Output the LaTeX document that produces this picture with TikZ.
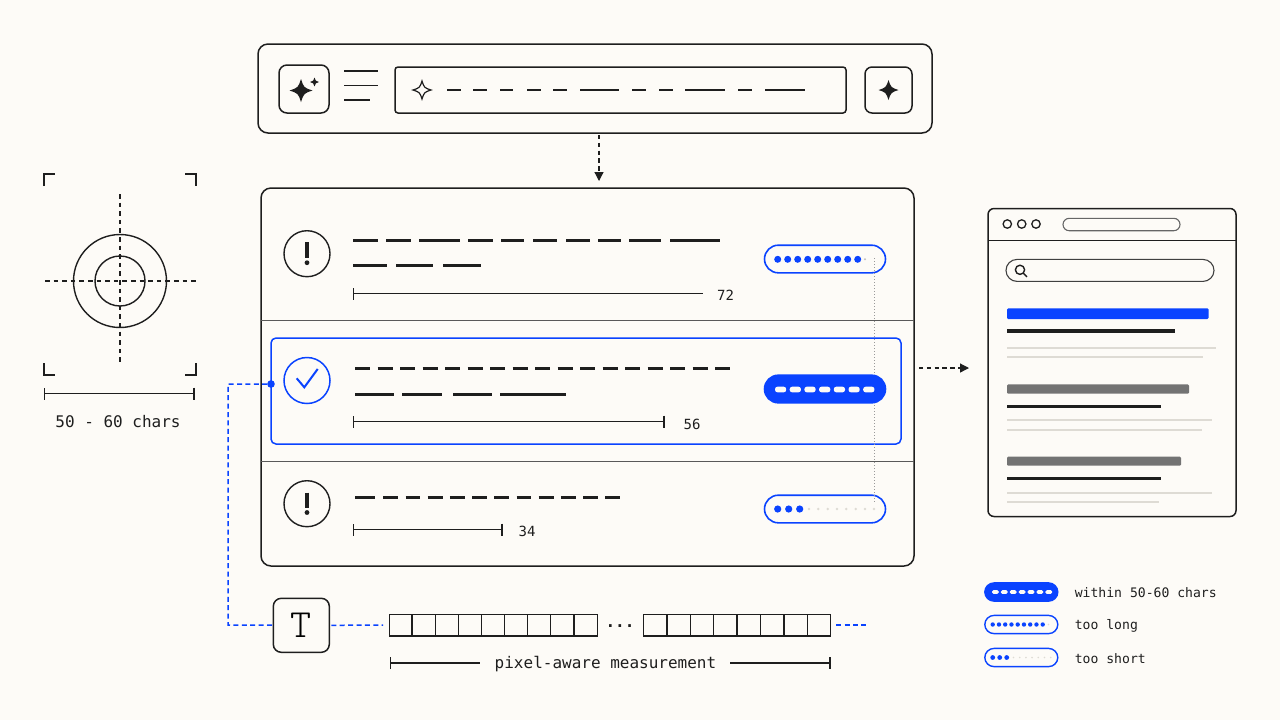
\documentclass[tikz,border=0pt]{standalone}
\usepackage{fontspec}
\setmonofont{DejaVu Sans Mono}
\newfontfamily\typeface{Latin Modern Mono Light}
\usetikzlibrary{arrows.meta,positioning}
\definecolor{paper}{HTML}{FDFBF7}
\definecolor{ink}{HTML}{1E1E1E}
\definecolor{signal}{HTML}{0A43FF}
\definecolor{haze}{HTML}{DEDBD4}

\begin{document}
\begin{tikzpicture}[x=.5pt,y=-.5pt,line width=.7pt,
    every node/.style={inner sep=0pt,outer sep=0pt},
    panel/.style={draw=ink,line width=.75pt,rounded corners=#1},
    panel/.default=5pt,
    ring/.style={circle,draw=ink,minimum size=23pt},
    pill/.style={draw=signal,line width=.8pt,fill=paper,rounded corners=6.9pt,minimum width=60.5pt,minimum height=13.8pt},
    pillsmall/.style={draw=signal,line width=.7pt,fill=paper,rounded corners=4.6pt,minimum width=36.5pt,minimum height=9.1pt},
    flow/.style={draw=ink,line width=.6pt,dash pattern=on 2.2pt off 1.7pt,-{Triangle[length=4.5pt,width=4.5pt]}},
    aim/.style={draw=ink,line width=.6pt,dash pattern=on 2.3pt off 2pt},
    link/.style={draw=signal,line width=.75pt,dash pattern=on 2.5pt off 1.7pt},
    bar/.style={draw=ink,line width=.55pt},
    word/.style={draw=ink,line width=1.3pt},
    dimstart/.style={draw=ink,line width=.75pt,{Bar[width=6pt,line width=.65pt]}-},
    dimboth/.style={draw=ink,line width=.75pt,{Bar[width=6pt,line width=.65pt]}-{Bar[width=6pt,line width=.65pt]}},
    caption/.style={font=\fontsize{8}{10}\selectfont\ttfamily,text=ink},
    count/.style={font=\fontsize{7}{9}\selectfont\ttfamily,text=ink},
    keytext/.style={font=\fontsize{6.55}{9}\selectfont\ttfamily,text=ink},
    probe/.style={draw=black!40,line width=.5pt,densely dotted},
    spark/.pic={\path[pic actions] (0,-1) .. controls (.25,-.25) .. (1,0) .. controls (.25,.25) .. (0,1)
        .. controls (-.25,.25) .. (-1,0) .. controls (-.25,-.25) .. (0,-1) -- cycle;}]

\fill[paper] (0,0) rectangle (1280,720);
\useasboundingbox (0,0) rectangle (1280,720);

% Prompt bar
\node[panel,minimum width=337pt,minimum height=44.5pt] (promptbar) at (595,88.5) {};
\node[panel=4pt,minimum width=25pt,minimum height=24pt] (sparkbtn) at (304,89) {};
\node[panel=1.5pt,minimum width=225.5pt,minimum height=23pt] (promptfield) at (620.5,90) {};
\node[panel=3.5pt,minimum width=23.5pt,minimum height=23pt] (sendbtn) at (888.5,90) {};
\pic[fill=ink,scale=11.5] at (301,90.5) {spark};
\pic[fill=ink,scale=4.4] at (314.5,82) {spark};
\pic[draw=ink,fill=paper,line width=.6pt,scale=9] at (422,90) {spark};
\pic[fill=ink,scale=10] at (888.5,90) {spark};
\draw[bar] (344,71) -- (378,71) (344,85.5) -- (378,85.5) (344,100) -- (370,100);
\foreach \a/\b in {447/461,473/487,500/513,527/541,553/567,580/619,632/646,659/673,685/725,738/752,765/805}
    \draw[bar] (\a,90) -- (\b,90);

% Length target
\draw[bar,line width=.7pt] (44,186) -- (44,174) -- (55,174) (185,174) -- (196,174) -- (196,186)
    (44,363) -- (44,375) -- (55,375) (185,375) -- (196,375) -- (196,363);
\node[ring,minimum size=46.5pt] (outerring) at (120,281) {};
\node[ring,minimum size=25pt] (innerring) at (120,281) {};
\draw[aim] (120,194) -- (120,365) (45,281) -- (196,281);
\draw[dimboth] (43.5,393.5) -- (194.5,393.5);
\node[caption] (targetlabel) at (118,422) {50 - 60 chars};

% Candidate list
\node[panel,minimum width=326.5pt,minimum height=189pt] (titlelist) at (587.5,377) {};
\draw[draw=black!65,line width=.6pt] (titlelist.west |- 0,320.5) -- (titlelist.east |- 0,320.5)
    (titlelist.west |- 0,461.5) -- (titlelist.east |- 0,461.5);
\node[draw=signal,line width=.75pt,rounded corners=2.5pt,minimum width=315pt,minimum height=53pt] (chosen) at (586,391) {};

% First row, too long
\node[ring] (warnlong) at (307,253.7) {};
\draw[ink,line width=1.7pt] (307,242) -- (307,257.5);
\fill[ink] (307,262.7) circle (2.4);
\foreach \a/\b in {353/378,386/411,419/460,468/493,501/524,533/557,566/590,598/621,629/661,670/720}
    \draw[word] (\a,240.5) -- (\b,240.5);
\foreach \a/\b in {353/387,396/433,443/481}
    \draw[word] (\a,265.5) -- (\b,265.5);
\draw[dimstart] (353,293.5) -- (703,293.5);
\node[count] (countlong) at (725.5,295.5) {72};

% Second row, within range
\node[ring,draw=signal,line width=.75pt] (passok) at (307,380.5) {};
\draw[signal,line width=1pt] (296.7,378.3) -- (304.3,387.3) -- (317.7,369);
\foreach \i in {0,...,16}
    \draw[word,line width=1.1pt] ({355+22.5*\i},368.5) -- ++(15,0);
\foreach \a/\b in {355/394,402/442,453/492,500/566}
    \draw[word] (\a,394.5) -- (\b,394.5);
\draw[dimboth] (353,421.5) -- (664.5,421.5);
\node[count] (countok) at (692,424) {56};

% Third row, too short
\node[ring] (warnshort) at (307,503.7) {};
\draw[ink,line width=1.7pt] (307,492.5) -- (307,507.5);
\fill[ink] (307,512.5) circle (2.4);
\draw[word] (355,497.5) -- (375,497.5);
\foreach \i in {0,...,10}
    \draw[word] ({383.3+22.2*\i},497.5) -- ++(14.8,0);
\draw[dimboth] (353,529.5) -- (502.7,529.5);
\node[count] (countshort) at (527,531) {34};

% Length pills
\node[pill] (pilllong) at (825,259) {};
\node[pill] (pillshort) at (825,509) {};
\coordinate (probetop) at (874,258);
\coordinate (probebot) at (874,504);
\draw[probe] (probetop) -- (probebot);
\node[pill,fill=signal] (pillok) at (825,389) {};
\foreach \i in {0,...,8}
    \fill[signal] ({777.7+10*\i},259.3) circle (3.5);
\fill[black!25] (865,259.3) circle (1.1);
\foreach \i in {0,...,6}
    \fill[paper,rounded corners=1.2pt] ({775+14.7*\i},386.7) rectangle ++(11.2,5.6);
\foreach \x in {777.7,788.7,799.7}
    \fill[signal] (\x,509) circle (3.6);
\foreach \x in {809,818.3,827.7,837,846.3,855.7,865,874}
    \fill[haze] (\x,509) circle (1.4);

% Search result page
\node[panel=3pt,minimum width=124pt,minimum height=154pt] (browser) at (1112,362.5) {};
\draw[ink,line width=.7pt] (browser.west |- 0,240.5) -- (browser.east |- 0,240.5);
\foreach \x in {1007.3,1021.7,1036}
    \draw[ink,line width=.65pt] (\x,224) circle (4.2);
\node[draw=black!60,line width=.55pt,rounded corners=3.1pt,minimum width=58.5pt,minimum height=6.2pt] (address) at (1121.5,224.5) {};
\node[draw=black!75,line width=.55pt,rounded corners=5.5pt,minimum width=104pt,minimum height=11pt] (searchbox) at (1110,270.4) {};
\draw[ink,line width=.7pt] (1020,269.8) circle (4.6) (1023.3,273.2) -- (1027,276.8);
\fill[signal,rounded corners=.6pt] (1007,308.3) rectangle (1208.5,319);
\draw[ink,line width=1.6pt] (1007,331) -- (1174.5,331);
\fill[black!55,rounded corners=.6pt] (1007,384.3) rectangle (1189,393.7);
\draw[ink,line width=1.1pt] (1007,406.5) -- (1160.5,406.5);
\fill[black!55,rounded corners=.6pt] (1007,456.7) rectangle (1181,465.7);
\draw[ink,line width=1.1pt] (1007,478.5) -- (1160.5,478.5);
\foreach \y/\e in {347.5/1216,356.5/1202.5,419.5/1212,429.5/1202,492.5/1212,501.5/1158.7}
    \draw[haze,line width=1pt] (1007,\y) -- (\e,\y);

% Arrows between the parts
\coordinate (downx) at (599,0);
\coordinate (righty) at (0,368);
\draw[flow,shorten <=1pt,shorten >=3.5pt] (promptbar.south -| downx) -- (titlelist.north -| downx);
\draw[flow,shorten <=2.5pt,shorten >=9.5pt] (titlelist.east |- righty) -- (browser.west |- righty);

% Measurement tape
\node[panel=4pt,minimum width=28pt,minimum height=27pt,font=\fontsize{20}{20}\selectfont\typeface] (typebox) at (301.3,625.3) {T};
\node[draw=ink,line width=.7pt,minimum width=104pt,minimum height=10.8pt] (tapeleft) at (493.2,625) {};
\node[draw=ink,line width=.7pt,minimum width=93.5pt,minimum height=10.8pt,right=23pt of tapeleft] (taperight) {};
\foreach \i in {1,...,8}
    \draw[ink,line width=.7pt] ({389+23.1*\i},614) -- ({389+23.1*\i},635.8);
\foreach \i in {1,...,7}
    \draw[ink,line width=.7pt] ({643.5+23.4*\i},614) -- ({643.5+23.4*\i},635.8);
\node[caption,font=\fontsize{8}{10}\selectfont\ttfamily\bfseries] (tapegap) at (620,626) {...};
\node[caption] (tapelabel) at (605.5,664.5) {pixel-aware measurement};
\coordinate (tapestart) at (390,663);
\coordinate (tapeend) at (830.5,663);
\draw[dimstart,shorten >=7.5pt] (tapestart) -- (tapelabel.west |- tapestart);
\draw[dimstart,shorten >=7pt] (tapeend) -- (tapelabel.east |- tapeend);

% Blue route
\node[circle,fill=signal,minimum size=3.8pt] (pin) at (chosen.west |- 0,384) {};
\coordinate (elbow) at (228,625);
\coordinate (tapetail) at (869.5,625);
\draw[link] (pin) -| (elbow) -- (typebox);
\draw[link,shorten <=1pt,shorten >=3pt] (typebox) -- (tapeleft);
\draw[link,shorten <=3pt] (taperight) -- (tapetail);

% Legend
\node[pillsmall,fill=signal] (keyok) at (1021.3,592) {};
\node[pillsmall] (keylong) at (1021.3,624.5) {};
\node[pillsmall] (keyshort) at (1021.3,657.5) {};
\foreach \i in {0,...,6}
    \fill[paper,rounded corners=.7pt] ({992+8.9*\i},590.2) rectangle ++(6.8,3.6);
\foreach \i in {0,...,8}
    \fill[signal] ({992.7+6.25*\i},624.5) circle (2.2);
\fill[haze] (1048.5,624.5) circle (.9);
\foreach \x in {992.7,999.7,1006.7}
    \fill[signal] (\x,657.5) circle (2.4);
\foreach \i in {0,...,6}
    \fill[haze] ({1013.5+6.2*\i},657.5) circle (.9);
\node[keytext,right=8.5pt of keyok,yshift=-.2pt] (keyoktext) {within 50-60 chars};
\node[keytext,right=8.5pt of keylong,yshift=-.7pt] (keylongtext) {too long};
\node[keytext,right=8.5pt of keyshort,yshift=-.4pt] (keyshorttext) {too short};

\end{tikzpicture}
\end{document}
